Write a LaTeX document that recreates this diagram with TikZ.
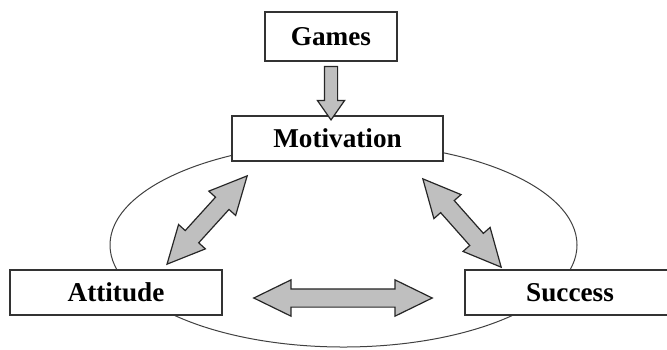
\documentclass[tikz,border=0pt]{standalone}
\usepackage{fontspec}
\setmainfont{Liberation Serif}
\usetikzlibrary{shapes.arrows,calc}

\tikzset{
  box/.style={draw=black!80, line width=0.8pt, fill=white, inner sep=0pt,
    font=\bfseries\fontsize{13.6}{16}\selectfont},
  fatarrow/.style={double arrow, draw=black!85, line width=0.6pt, fill=gray!50,
    inner xsep=0pt, inner ysep=4.25pt, minimum width=0pt, double arrow head extend=4.5pt,
    double arrow tip angle=52},
  downarrow/.style={single arrow, draw=black!85, line width=0.6pt, fill=gray!50,
    inner xsep=0pt, inner ysep=3pt, minimum width=0pt, single arrow head extend=3.5pt,
    single arrow tip angle=70},
  loop line/.style={draw=black!75, line width=0.5pt}
}

\begin{document}
\begin{tikzpicture}[x=0.5pt,y=-0.5pt]
  \clip (0,0) rectangle (667,349);

  % ring behind the boxes
  \draw[loop line] (343.5,245) ellipse [x radius=233.5, y radius=102];

  \node[box, minimum width=66pt, minimum height=24.5pt] (games) at (331,36.5) {Games};
  \node[box, minimum width=105.5pt, minimum height=22.5pt] (mot) at (337.5,138.5) {Motivation};
  \node[box, minimum width=106pt, minimum height=22.5pt] (att) at (116,292.5) {Attitude};
  \node[box, minimum width=105pt, minimum height=22.5pt] (suc) at (570,292.5) {Success};

  % arrow ends
  \coordinate (g1) at (games.south);
  \coordinate (g2) at (games.south |- mot.north);
  \coordinate (l1) at ($(att.north)+(51,-5)$);
  \coordinate (l2) at ($(mot.south west)+(16,14)$);
  \coordinate (r1) at ($(mot.south east)+(-21,17)$);
  \coordinate (r2) at ($(suc.north west)+(37,-2)$);
  \coordinate (h1) at ($(att.east)+(31,5.5)$);
  \coordinate (h2) at ($(suc.west)+(-32,5.5)$);

  \path let \p1=(g1), \p2=(g2), \n1={veclen(\x2-\x1,\y2-\y1)}, \n2={atan2(\y2-\y1,\x2-\x1)}
    in node[downarrow, minimum height=\n1, rotate=\n2] (gm) at ($(g1)!0.5!(g2)$) {};
  \path let \p1=(l1), \p2=(l2), \n1={veclen(\x2-\x1,\y2-\y1)}, \n2={atan2(\y2-\y1,\x2-\x1)}
    in node[fatarrow, minimum height=\n1, rotate=\n2] (am) at ($(l1)!0.5!(l2)$) {};
  \path let \p1=(r1), \p2=(r2), \n1={veclen(\x2-\x1,\y2-\y1)}, \n2={atan2(\y2-\y1,\x2-\x1)}
    in node[fatarrow, minimum height=\n1, rotate=\n2] (ms) at ($(r1)!0.5!(r2)$) {};
  \path let \p1=(h1), \p2=(h2), \n1={veclen(\x2-\x1,\y2-\y1)}, \n2={atan2(\y2-\y1,\x2-\x1)}
    in node[fatarrow, minimum height=\n1, rotate=\n2] (as) at ($(h1)!0.5!(h2)$) {};
\end{tikzpicture}
\end{document}
